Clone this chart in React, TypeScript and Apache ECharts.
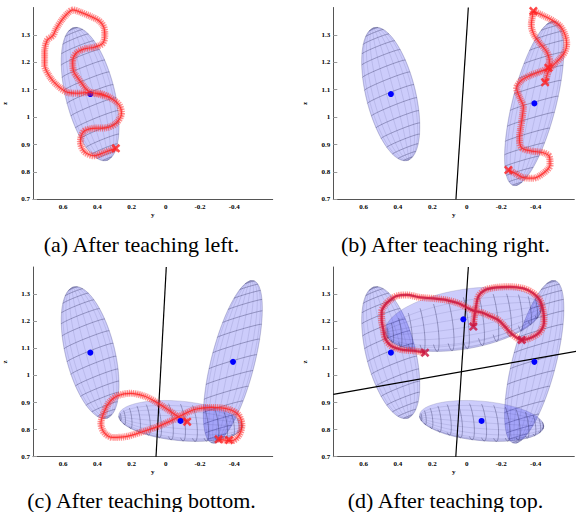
import React, { useEffect, useRef } from "react";
import * as echarts from "echarts";

// ---------- data ----------
const yTicks = [0.7, 0.8, 0.9, 1, 1.1, 1.2, 1.3];
const xTicks = [0.6, 0.4, 0.2, 0, -0.2, -0.4];
const captions = [
  "(a) After teaching left.",
  "(b) After teaching right.",
  "(c) After teaching bottom.",
  "(d) After teaching top.",
];

// ellipsoids: [centerY, centerZ, axis1 (dy,dz), axis2 (dy,dz), axis3 (dy,dz)]
const ellLeft = [0.442, 1.084, 0.102, 0.241, -0.135, 0.034, 0.004, 0.006];
const ellRight = [-0.392, 1.05, -0.101, 0.299, -0.14, 0.026, -0.003, 0.005];
const ellBottom = [-0.086, 0.832, -0.36, -0.016, 0, -0.062, -0.029, -0.04];
const ellTop = [0.02, 1.207, -0.453, 0.048, 0, -0.081, -0.035, -0.072];

// Gaussian centres (blue dots)
const dotLeft = [0.441, 1.084];
const dotRight = [-0.393, 1.05];
const dotBottom = [-0.086, 0.832];
const dotTop = [0.02, 1.207];

// separating lines
const sepB = [[-0.009, 1.4], [0.063, 0.7]];
const sepC = [[-0.003, 1.4], [0.057, 0.7]];
const sepD1 = [[-0.009, 1.4], [0.064, 0.7]];
const sepD2 = [[0.776, 0.93], [-0.645, 1.09]];

// demonstrated trajectories [y, z]
const trajA = [[0.292,0.886],[0.36,0.871],[0.418,0.859],[0.476,0.874],[0.499,0.91],[0.48,0.947],[0.427,0.959],[0.35,0.961],[0.292,0.977],[0.259,1.014],[0.272,1.044],[0.321,1.069],[0.389,1.083],[0.447,1.09],[0.515,1.087],[0.573,1.09],[0.631,1.114],[0.679,1.148],[0.708,1.19],[0.708,1.239],[0.693,1.281],[0.66,1.297],[0.641,1.322],[0.608,1.354],[0.573,1.379],[0.544,1.391],[0.495,1.382],[0.437,1.367],[0.389,1.351],[0.363,1.33],[0.356,1.3],[0.369,1.269],[0.418,1.255],[0.476,1.249],[0.524,1.233],[0.544,1.202],[0.538,1.166],[0.505,1.135],[0.472,1.107],[0.441,1.09],[0.379,1.086],[0.321,1.071]];
const endsA = [[0.292, 0.886]];

const trajB1 = [[-0.242,0.807],[-0.28,0.795],[-0.329,0.779],[-0.387,0.777],[-0.445,0.795],[-0.484,0.825],[-0.48,0.856],[-0.445,0.87],[-0.377,0.876],[-0.319,0.888],[-0.306,0.923],[-0.313,0.959],[-0.323,1.002],[-0.329,1.038],[-0.309,1.069],[-0.29,1.105],[-0.319,1.135],[-0.377,1.154],[-0.435,1.168],[-0.474,1.18],[-0.48,1.208],[-0.464,1.239],[-0.426,1.269],[-0.391,1.3],[-0.375,1.336],[-0.383,1.373],[-0.387,1.387]];
const trajB2 = [[-0.387,1.387],[-0.445,1.37],[-0.503,1.351],[-0.546,1.33],[-0.571,1.3],[-0.581,1.269],[-0.571,1.239],[-0.542,1.214],[-0.503,1.19],[-0.474,1.166],[-0.461,1.141],[-0.455,1.127]];
const endsB = [[-0.387, 1.387], [-0.242, 0.807], [-0.455, 1.127], [-0.474, 1.18]];

const trajC = [[-0.309,0.764],[-0.387,0.759],[-0.429,0.78],[-0.445,0.817],[-0.425,0.854],[-0.367,0.875],[-0.27,0.882],[-0.173,0.875],[-0.096,0.854],[-0.038,0.835],[0.04,0.813],[0.137,0.792],[0.234,0.774],[0.311,0.771],[0.36,0.789],[0.379,0.823],[0.36,0.866],[0.327,0.903],[0.282,0.925],[0.204,0.934],[0.127,0.924],[0.059,0.903],[-0.009,0.875],[-0.067,0.85],[-0.125,0.829]];
const endsC = [[-0.125, 0.829], [-0.309, 0.764], [-0.37, 0.762]];

const trajD = [[0.243,1.084],[0.311,1.091],[0.369,1.094],[0.408,1.1],[0.446,1.112],[0.475,1.137],[0.485,1.168],[0.495,1.204],[0.495,1.235],[0.475,1.26],[0.446,1.278],[0.408,1.293],[0.349,1.297],[0.272,1.288],[0.194,1.284],[0.117,1.278],[0.049,1.266],[0.001,1.251],[-0.038,1.239],[-0.087,1.232],[-0.135,1.219],[-0.184,1.204],[-0.222,1.18],[-0.261,1.153],[-0.319,1.131],[-0.377,1.14],[-0.426,1.161],[-0.449,1.198],[-0.445,1.235],[-0.426,1.276],[-0.387,1.303],[-0.329,1.321],[-0.251,1.327],[-0.174,1.325],[-0.106,1.315],[-0.067,1.291],[-0.054,1.254],[-0.044,1.217],[-0.038,1.18]];
const endsD = [[0.243, 1.084], [-0.319, 1.131], [-0.038, 1.18]];

// ---------- layout / style ----------
const X_MAX = 0.776;
const X_MIN = -0.625;
const Y_MIN = 0.7;
const Y_MAX = 1.4;
const gridLeft = [31.7, 333.3];
const gridTop = [7.5, 267];
const gridH = [191.8, 189.7];
const GRID_W = 241;
const capX = [141.5, 445.5];
const capY = [244.5, 500.5];

const panels = [
  { ells: [ellLeft], dots: [dotLeft], dotsUnder: true, seps: [], trajs: [trajA], ends: endsA, core: "#ff2020", coreW: 1.2 },
  { ells: [ellLeft, ellRight], dots: [dotLeft, dotRight], dotsUnder: false, seps: [sepB], trajs: [trajB1, trajB2], ends: endsB, core: "#ff2020", coreW: 1.2 },
  { ells: [ellLeft, ellRight, ellBottom], dots: [dotLeft, dotRight, dotBottom], dotsUnder: false, seps: [sepC], trajs: [trajC], ends: endsC, core: "#ff2020", coreW: 1.2 },
  { ells: [ellLeft, ellRight, ellBottom, ellTop], dots: [dotLeft, dotRight, dotBottom, dotTop], dotsUnder: false, seps: [sepD1, sepD2], trajs: [trajD], ends: endsD, core: "#c8123c", coreW: 2.2 },
];

const fmt = (v: number) => String(Math.round(v * 10) / 10);
const tickFont = { fontSize: 7, fontWeight: "bold" as const, fontFamily: "'Liberation Serif', 'Times New Roman', serif", color: "#000" };

function renderEllipsoid(_params: any, api: any) {
  const v = [0, 1, 2, 3, 4, 5, 6, 7].map((i) => api.value(i) as number);
  const c = api.coord([v[0], v[1]]);
  const vec = (dy: number, dz: number) => {
    const p = api.coord([v[0] + dy, v[1] + dz]);
    return [p[0] - c[0], p[1] - c[1]];
  };
  const A = vec(v[2], v[3]);
  const B = vec(v[4], v[5]);
  const C = vec(v[6], v[7]);
  const q11 = A[0] * A[0] + B[0] * B[0] + C[0] * C[0];
  const q12 = A[0] * A[1] + B[0] * B[1] + C[0] * C[1];
  const q22 = A[1] * A[1] + B[1] * B[1] + C[1] * C[1];
  const l11 = Math.sqrt(q11);
  const l21 = q12 / l11;
  const l22 = Math.sqrt(Math.max(q22 - l21 * l21, 0));
  const outline: number[][] = [];
  for (let i = 0; i < 120; i++) {
    const t = (i / 120) * Math.PI * 2;
    outline.push([c[0] + l11 * Math.cos(t), c[1] + l21 * Math.cos(t) + l22 * Math.sin(t)]);
  }
  const pt = (th: number, ph: number) => {
    const ct = Math.cos(th), st = Math.sin(th), cp = Math.cos(ph), sp = Math.sin(ph);
    return [
      c[0] + ct * A[0] + st * (cp * B[0] + sp * C[0]),
      c[1] + ct * A[1] + st * (cp * B[1] + sp * C[1]),
    ];
  };
  const children: any[] = [
    { type: "polygon", shape: { points: outline }, style: { fill: "rgba(25,25,235,0.22)", stroke: "rgba(70,70,130,0.3)", lineWidth: 0.6 } },
  ];
  // meridians (faint, along the long axis)
  const M = 20;
  for (let m = 0; m < M / 2; m++) {
    const ph = (m / M) * Math.PI * 2 + Math.PI / M;
    const pts: number[][] = [];
    for (let j = 0; j <= 36; j++) pts.push(pt((j / 36) * Math.PI, ph));
    children.push({ type: "polyline", shape: { points: pts }, style: { stroke: "rgba(60,60,120,0.22)", lineWidth: 0.6, fill: null } });
  }
  // parallels (darker, across the long axis), front half only
  const N = 16;
  for (let k = 1; k < N; k++) {
    const th = (k * Math.PI) / N;
    const pts: number[][] = [];
    for (let j = 0; j <= 30; j++) pts.push(pt(th, (j / 30) * Math.PI));
    children.push({ type: "polyline", shape: { points: pts }, style: { stroke: "rgba(35,35,80,0.5)", lineWidth: 0.7, fill: null } });
  }
  return { type: "group", children };
}

const xSymbol = "path://M2,0L5,3L8,0L10,2L7,5L10,8L8,10L5,7L2,10L0,8L3,5L0,2Z";

function buildOption() {
  const grid: any[] = [];
  const xAxis: any[] = [];
  const yAxis: any[] = [];
  const series: any[] = [];
  const graphic: any[] = [];
  panels.forEach((p, i) => {
    const col = i % 2;
    const row = Math.floor(i / 2);
    grid.push({ left: gridLeft[col], top: gridTop[row], width: GRID_W, height: gridH[row] });
    xAxis.push({
      type: "value", gridIndex: i, min: X_MIN, max: X_MAX, inverse: true,
      name: "y", nameLocation: "middle", nameGap: 10, nameTextStyle: { ...tickFont },
      axisLine: { show: true, onZero: false, lineStyle: { color: "#555", width: 1 } },
      axisTick: { show: false },
      splitLine: { show: false },
      axisLabel: { ...tickFont, customValues: xTicks, formatter: fmt, margin: 4 },
    });
    yAxis.push({
      type: "value", gridIndex: i, min: Y_MIN, max: Y_MAX, interval: 0.1,
      name: "z", nameLocation: "middle", nameGap: 25, nameRotate: 90, nameTextStyle: { ...tickFont },
      axisLine: { show: true, onZero: false, lineStyle: { color: "#555", width: 1 } },
      axisTick: { show: true, inside: true, length: 4, customValues: yTicks, lineStyle: { color: "#999" } },
      splitLine: { show: false },
      axisLabel: { ...tickFont, customValues: yTicks, formatter: fmt, margin: 3 },
    });
    series.push({
      type: "custom", xAxisIndex: i, yAxisIndex: i, silent: true, z: 1,
      renderItem: renderEllipsoid, encode: { x: 0, y: 1 }, data: p.ells,
    });
    p.seps.forEach((s) => {
      series.push({
        type: "line", xAxisIndex: i, yAxisIndex: i, data: s, showSymbol: false, clip: false, silent: true, z: 2,
        lineStyle: { color: "#000", width: 1.2 },
      });
    });
    p.trajs.forEach((t) => {
      series.push({
        type: "line", xAxisIndex: i, yAxisIndex: i, data: t, showSymbol: false, smooth: 0.3, silent: true, z: 3,
        lineStyle: { color: "rgba(255,40,40,0.5)", width: 7, type: [1.2, 0.8] },
      });
      series.push({
        type: "line", xAxisIndex: i, yAxisIndex: i, data: t, showSymbol: false, smooth: 0.3, silent: true, z: 3,
        lineStyle: { color: "rgba(255,60,60,0.35)", width: 4 },
      });
      series.push({
        type: "line", xAxisIndex: i, yAxisIndex: i, data: t, showSymbol: false, smooth: 0.3, silent: true, z: 3,
        lineStyle: { color: p.core, width: p.coreW, opacity: 0.8 },
      });
    });
    series.push({
      type: "scatter", xAxisIndex: i, yAxisIndex: i, data: p.dots, symbolSize: 6, silent: true,
      z: p.dotsUnder ? 2 : 4, itemStyle: { color: "#0000ff", opacity: 1 },
    });
    series.push({
      type: "scatter", xAxisIndex: i, yAxisIndex: i, data: p.ends, symbol: xSymbol, symbolSize: 9, silent: true, z: 5,
      itemStyle: { color: p.core },
    });
    graphic.push({
      type: "text", x: capX[col], y: capY[row],
      style: {
        text: captions[i], fill: "#000",
        font: "22px 'Liberation Serif', 'Times New Roman', serif",
        textAlign: "center", textVerticalAlign: "middle",
      },
    });
  });
  return { animation: false, backgroundColor: "#fff", grid, xAxis, yAxis, series, graphic };
}

export default function App() {
  const ref = useRef<HTMLDivElement>(null);
  useEffect(() => {
    if (!ref.current) return;
    const chart = echarts.init(ref.current, undefined, { renderer: "svg" });
    chart.setOption(buildOption() as any);
    return () => chart.dispose();
  }, []);
  return <div ref={ref} style={{ position: "fixed", left: 0, top: 0, width: 578, height: 512, background: "#fff" }} />;
}
